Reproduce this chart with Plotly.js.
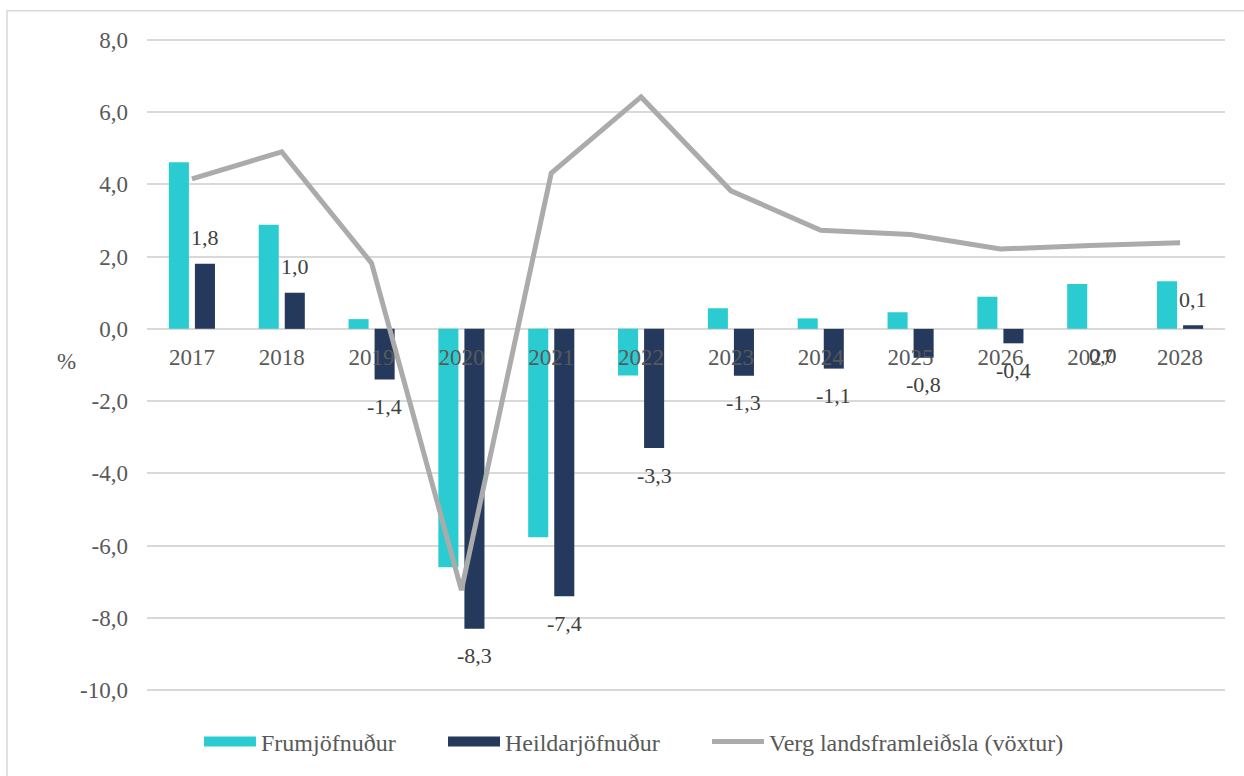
<!DOCTYPE html>
<html>
<head>
<meta charset="utf-8">
<script src="https://cdn.plot.ly/plotly-3.0.1.min.js"></script>
<style>
html,body{margin:0;padding:0;background:#fff;}
#chart{width:1244px;height:776px;}
</style>
</head>
<body>
<div id="chart"></div>
<script>
const years = ['2017','2018','2019','2020','2021','2022','2023','2024','2025','2026','2027','2028'];
const frumjofnudur = [4.61, 2.88, 0.27, -6.6, -5.77, -1.29, 0.57, 0.29, 0.46, 0.89, 1.24, 1.32];
const heildarjofnudur = [1.8, 1.0, -1.4, -8.3, -7.4, -3.3, -1.3, -1.1, -0.8, -0.4, 0.0, 0.1];
const vlf = [4.15, 4.9, 1.82, -7.23, 4.31, 6.42, 3.82, 2.73, 2.61, 2.21, 2.31, 2.38];
const yTicks = [-10, -8, -6, -4, -2, 0, 2, 4, 6, 8];
const yRange = [-10.05, 8.05];
const names = ['Frumjöfnuður', 'Heildarjöfnuður', 'Verg landsframleiðsla (vöxtur)'];

const cyan = '#2ACCD2';
const navy = '#25395C';
const grey = '#ABABAB';
const txt = '#595959';
const font = '"Liberation Serif", "Times New Roman", serif';

const fmt = v => v.toFixed(1).replace('.', ',');

const traces = [
  {type:'bar', x:years, y:frumjofnudur, name:names[0], marker:{color:cyan}, legendgroup:'a', showlegend:false, hoverinfo:'x+y'},
  {type:'bar', x:years, y:heildarjofnudur, name:names[1], marker:{color:navy}, legendgroup:'b', showlegend:false, hoverinfo:'x+y'},
  {type:'scatter', mode:'lines', x:years, y:vlf, name:names[2], line:{color:grey, width:5}, legendgroup:'c', showlegend:false, hoverinfo:'x+y'},
  // legend entries
  {type:'scatter', mode:'lines', x:[years[0]], y:[null], name:names[0], line:{color:cyan, width:12}, legendgroup:'a', legend:'legend', hoverinfo:'skip'},
  {type:'scatter', mode:'lines', x:[years[0]], y:[null], name:names[1], line:{color:navy, width:12}, legendgroup:'b', legend:'legend2', hoverinfo:'skip'},
  {type:'scatter', mode:'lines', x:[years[0]], y:[null], name:names[2], line:{color:grey, width:5}, legendgroup:'c', legend:'legend3', hoverinfo:'skip'}
];

const annotations = heildarjofnudur.map((v, i) => ({
  x: i, y: v, xref:'x', yref:'y', text: fmt(v), showarrow:false,
  xshift: 13, yshift: v > 0 ? 26 : -27,
  font:{family:font, size:22, color:'#404040'}
}));
annotations.push({
  x:-0.085, y:0.505, xref:'paper', yref:'paper', text:'%', showarrow:false,
  font:{family:font, size:23, color:txt}
});

const legendBase = {
  orientation:'h', y:-0.042, xanchor:'left', yanchor:'top',
  font:{family:font, size:24, color:txt}, itemwidth:52,
  bgcolor:'rgba(0,0,0,0)'
};

const layout = {
  width:1244, height:776,
  margin:{l:147, r:19, t:37.5, b:81},
  paper_bgcolor:'#fff', plot_bgcolor:'#fff',
  barmode:'group', bargap:0.42, bargroupgap:0.23,
  font:{family:font, size:23, color:txt},
  xaxis:{
    type:'category', categoryarray:years, categoryorder:'array',
    range:[-0.5, years.length - 0.5],
    anchor:'free',
    position:(0 - yRange[0]) / (yRange[1] - yRange[0]),
    showgrid:false, showline:false, zeroline:false,
    ticks:'outside', ticklen:8, tickcolor:'rgba(0,0,0,0)',
    tickfont:{family:font, size:23, color:txt}
  },
  yaxis:{
    range:yRange, tickvals:yTicks, ticktext:yTicks.map(fmt),
    showgrid:true, gridcolor:'#D9D9D9', gridwidth:1.5,
    zeroline:true, zerolinecolor:'#D9D9D9', zerolinewidth:1.5,
    showline:false, ticks:'', ticklabelstandoff:18,
    tickfont:{family:font, size:23, color:txt}
  },
  legend:Object.assign({}, legendBase, {x:0.0482}),
  legend2:Object.assign({}, legendBase, {x:0.2746}),
  legend3:Object.assign({}, legendBase, {x:0.5195}),
  annotations:annotations,
  shapes:[{
    type:'rect', xref:'paper', yref:'paper',
    x0:(7-147)/1078, x1:1.3, y0:-0.3, y1:(695-10)/657.5,
    line:{color:'#D9D9D9', width:1.5}, fillcolor:'rgba(0,0,0,0)', layer:'below'
  }]
};

Plotly.newPlot('chart', traces, layout, {displayModeBar:false});
</script>
</body>
</html>
